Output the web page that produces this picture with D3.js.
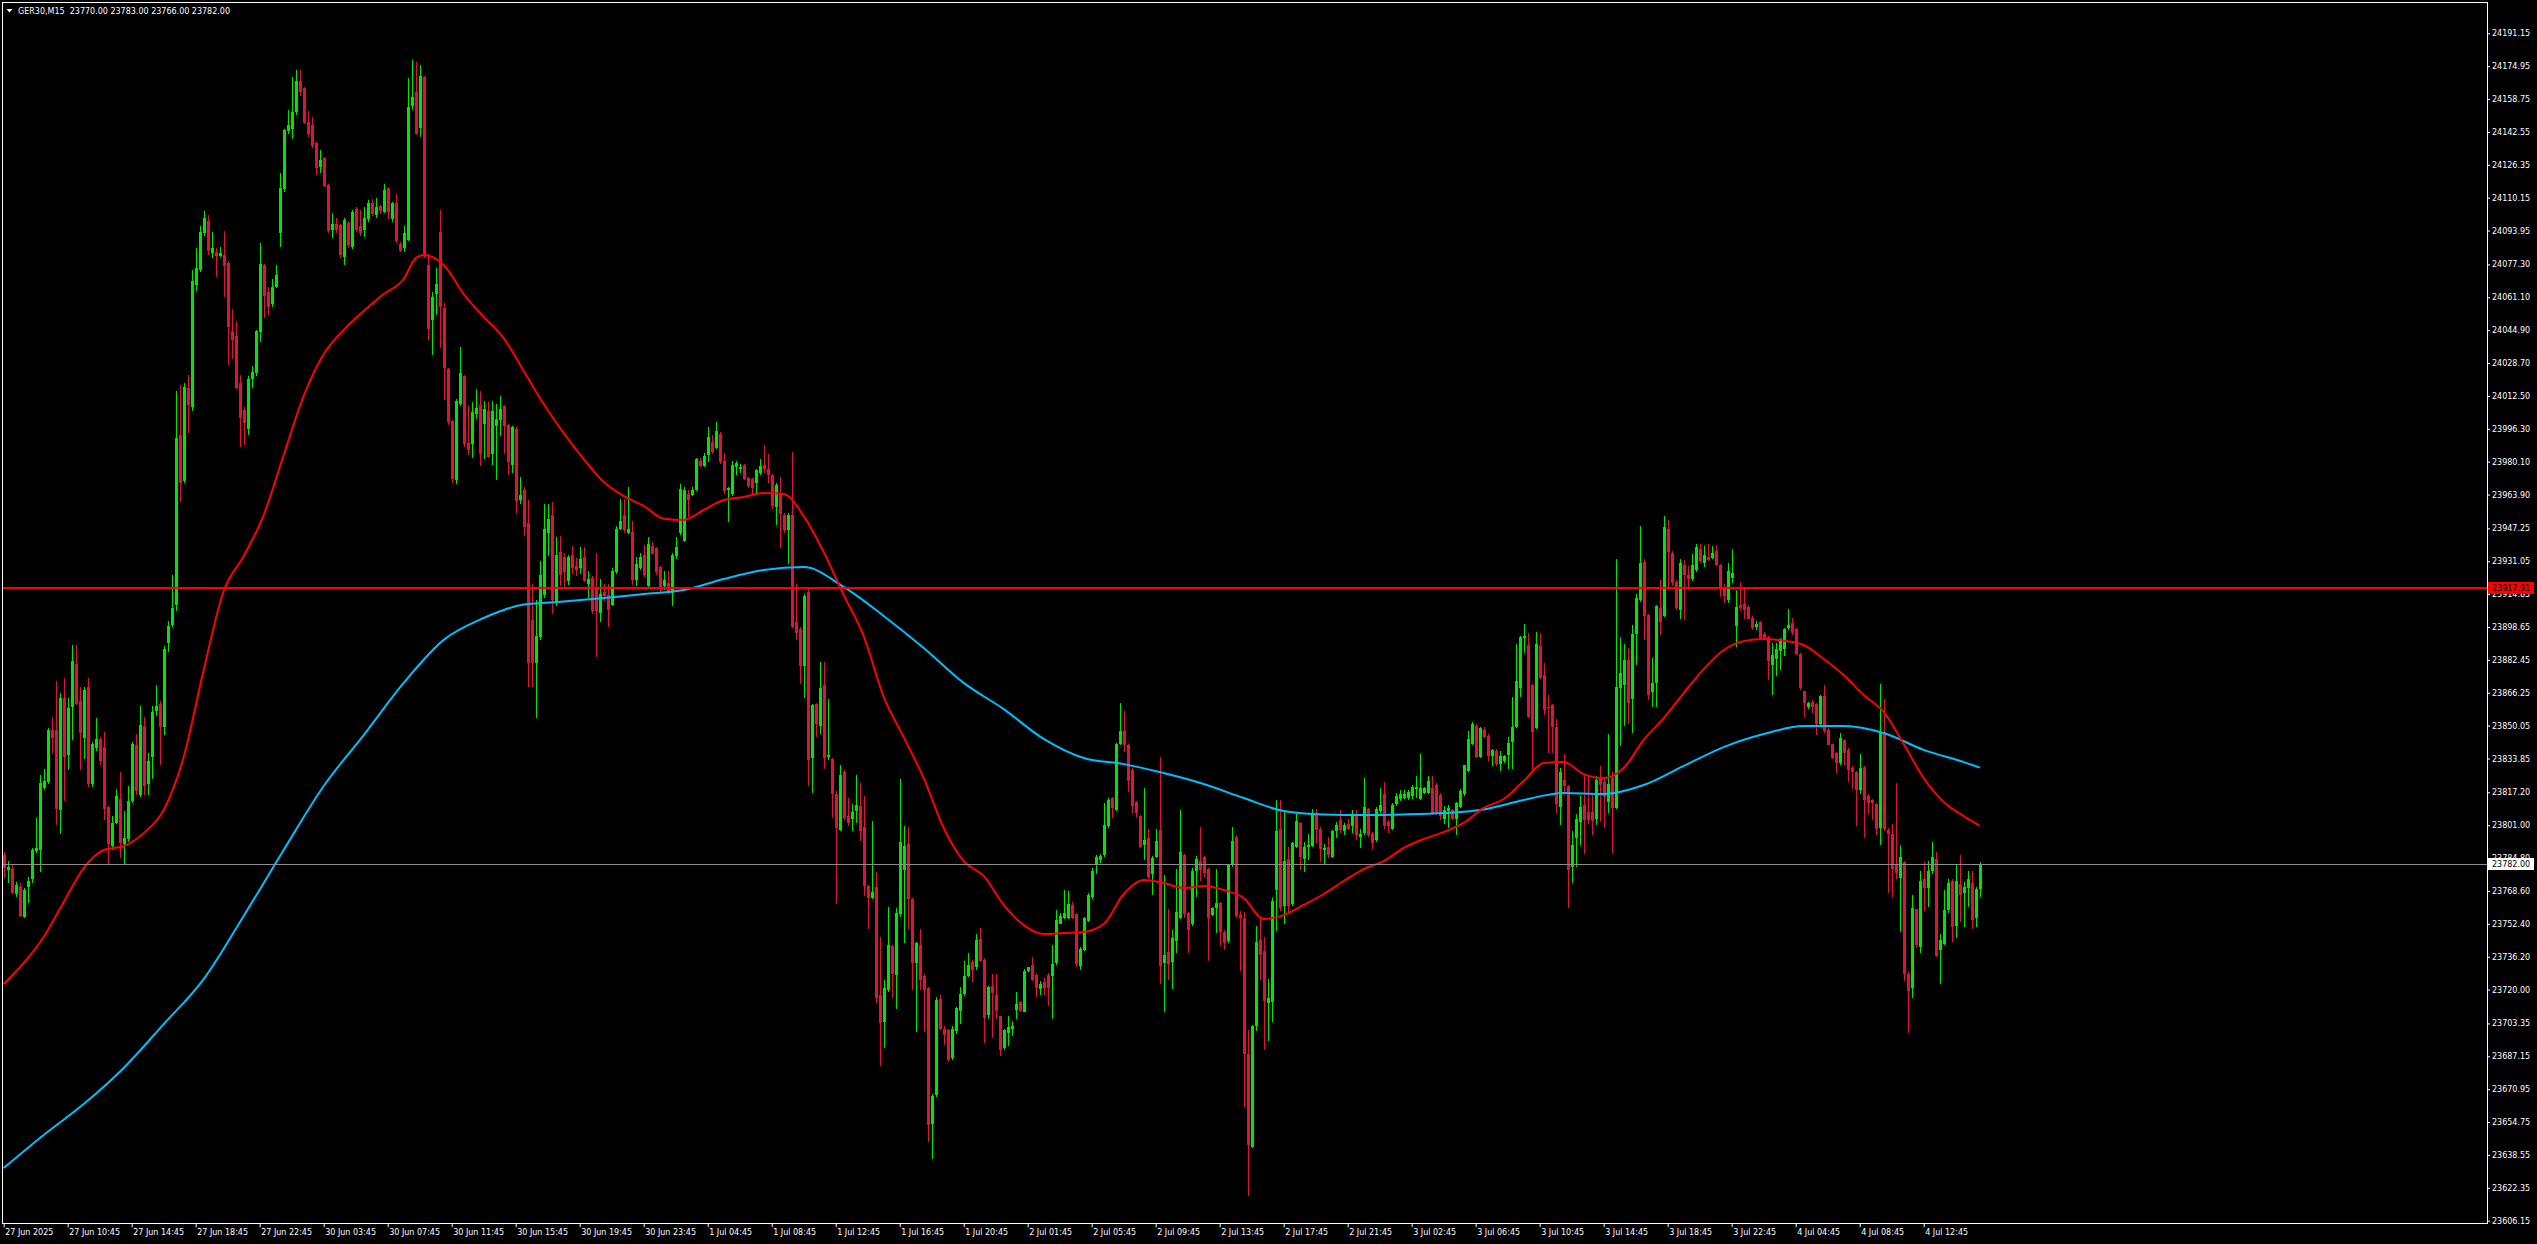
<!DOCTYPE html>
<html><head><meta charset="utf-8">
<script src="https://cdn.jsdelivr.net/npm/d3@7"></script>
<style>
html,body{margin:0;padding:0;background:#000;overflow:hidden;}
svg{display:block;}
text{font-family:"DejaVu Sans",Verdana,sans-serif;}
</style></head><body>
<svg id="chart" width="2537" height="1244"></svg>
<script>
const symbolTitle = "GER30,M15";
const lastQuote = ["23770.00","23783.00","23766.00","23782.00"];
const timeLabels = ["27 Jun 2025","27 Jun 10:45","27 Jun 14:45","27 Jun 18:45","27 Jun 22:45","30 Jun 03:45","30 Jun 07:45","30 Jun 11:45","30 Jun 15:45","30 Jun 19:45","30 Jun 23:45","1 Jul 04:45","1 Jul 08:45","1 Jul 12:45","1 Jul 16:45","1 Jul 20:45","2 Jul 01:45","2 Jul 05:45","2 Jul 09:45","2 Jul 13:45","2 Jul 17:45","2 Jul 21:45","3 Jul 02:45","3 Jul 06:45","3 Jul 10:45","3 Jul 14:45","3 Jul 18:45","3 Jul 22:45","4 Jul 04:45","4 Jul 08:45","4 Jul 12:45"];
const priceTicks = [24191.15,24174.95,24158.75,24142.55,24126.35,24110.15,24093.95,24077.30,24061.10,24044.90,24028.70,24012.50,23996.30,23980.10,23963.90,23947.25,23931.05,23914.85,23898.65,23882.45,23866.25,23850.05,23833.85,23817.20,23801.00,23784.80,23768.60,23752.40,23736.20,23720.00,23703.35,23687.15,23670.95,23654.75,23638.55,23622.35,23606.15];
const levelLine = 23917.91;
const bidPrice = 23782.00;

const open = [
23786.3,23779.2,23779.2,23767.4,23770.7,23756.3,23771.0,23775.1,23788.8,23789.3,
23819.8,23823.0,23847.9,23847.9,23809.0,23863.6,23836.0,23859.5,23880.6,23862.2,
23844.7,23869.0,23821.7,23839.3,23843.3,23839.3,23810.1,23791.2,23802.8,23814.1,
23792.0,23794.7,23813.6,23840.6,23816.3,23850.1,23821.7,23835.2,23857.6,23860.9,
23850.1,23891.1,23900.1,23910.1,23993.3,23970.9,24016.3,24007.3,24067.6,24074.9,
24093.3,24098.7,24083.3,24083.3,24082.0,24081.9,24077.9,24044.6,24041.9,24019.0,
24005.5,23996.5,24021.4,24024.4,24044.6,24077.1,24063.5,24058.1,24066.8,24093.3,
24114.9,24143.3,24144.6,24152.7,24167.6,24164.1,24147.3,24146.0,24137.0,24125.7,
24129.7,24116.2,24094.6,24097.3,24096.5,24081.6,24097.9,24086.5,24104.6,24096.0,
24094.6,24100.0,24107.3,24101.9,24106.0,24103.5,24114.9,24100.0,24107.6,24087.3,
24085.7,24090.0,24156.0,24162.2,24145.2,24169.7,24077.1,24050.6,24063.0,24093.3,
24056.0,24025.7,24000.0,23971.7,24009.0,24022.5,23989.2,23989.2,24004.1,24008.1,
23999.0,24004.9,23984.3,23998.4,24001.0,24007.4,23998.4,23979.1,23996.4,23961.6,
23966.2,23950.0,23902.3,23881.2,23894.1,23914.7,23945.6,23953.8,23910.8,23935.8,
23933.2,23921.6,23934.0,23928.9,23928.1,23933.2,23920.3,23922.9,23917.2,23906.2,
23916.0,23914.2,23910.0,23926.3,23947.4,23953.8,23945.6,23945.6,23922.4,23928.1,
23934.0,23919.1,23938.4,23937.4,23928.1,23919.1,23920.3,23916.0,23934.0,23945.6,
23941.7,23964.1,23964.1,23966.7,23980.4,23978.3,23983.7,23989.9,23987.3,23993.8,
23980.4,23966.7,23964.9,23977.8,23977.0,23978.3,23971.9,23971.4,23970.1,23975.2,
23978.3,23976.5,23973.4,23958.5,23964.1,23953.8,23946.9,23953.8,23901.0,23897.9,
23879.9,23916.0,23834.8,23860.6,23850.2,23870.1,23835.3,23833.5,23816.2,23799.2,
23827.1,23805.7,23804.4,23808.5,23810.3,23800.0,23770.9,23765.7,23770.4,23717.5,
23704.6,23720.1,23741.5,23727.8,23757.5,23779.4,23791.8,23764.4,23733.8,23742.0,
23726.6,23720.6,23654.4,23668.6,23715.5,23700.8,23700.0,23686.6,23700.0,23709.8,
23718.3,23727.3,23733.8,23731.7,23745.1,23734.8,23708.0,23721.9,23717.5,23706.8,
23691.8,23698.9,23700.9,23710.6,23713.8,23709.6,23729.6,23732.1,23727.1,23720.6,
23723.8,23727.1,23727.3,23733.4,23752.9,23755.9,23755.9,23761.7,23757.2,23732.1,
23740.1,23754.2,23765.9,23782.6,23784.2,23786.7,23800.9,23814.2,23809.2,23841.7,
23847.2,23840.5,23828.4,23812.6,23805.6,23791.7,23794.7,23777.6,23785.6,23798.4,
23733.4,23738.4,23733.9,23744.2,23755.9,23786.2,23757.6,23752.6,23778.9,23783.4,
23785.1,23779.2,23757.1,23760.6,23762.6,23748.4,23744.2,23781.7,23795.1,23756.7,
23755.1,23688.4,23642.9,23702.6,23744.2,23739.2,23713.9,23714.2,23769.6,23799.2,
23761.7,23784.2,23762.9,23790.9,23802.1,23784.6,23790.6,23791.2,23806.7,23799.2,
23789.2,23790.1,23785.6,23798.4,23803.4,23798.4,23801.7,23800.9,23806.7,23795.6,
23797.6,23809.2,23796.7,23794.2,23808.4,23816.2,23802.6,23799.6,23811.7,23814.6,
23815.1,23815.1,23815.9,23819.2,23814.2,23817.2,23817.6,23819.5,23820.9,23815.9,
23804.6,23808.4,23808.7,23804.6,23810.5,23816.7,23828.4,23841.7,23850.0,23835.0,
23847.9,23845.0,23835.5,23837.5,23831.7,23832.9,23835.9,23842.6,23850.0,23869.0,
23893.6,23889.6,23869.9,23849.3,23889.2,23874.8,23859.3,23860.2,23849.3,23810.6,
23823.2,23820.1,23781.0,23795.1,23803.0,23810.9,23807.7,23807.4,23804.7,23824.1,
23822.3,23812.7,23824.1,23810.0,23869.0,23870.7,23882.2,23863.7,23895.7,23912.6,
23930.9,23904.5,23866.9,23871.6,23908.0,23904.5,23946.8,23935.0,23920.9,23907.7,
23929.2,23924.4,23922.7,23927.4,23937.3,23930.9,23933.2,23933.2,23936.2,23929.2,
23918.6,23912.6,23923.5,23899.8,23909.5,23909.8,23908.6,23903.3,23898.9,23901.0,
23895.0,23893.6,23880.4,23883.4,23887.5,23888.3,23898.6,23900.7,23897.5,23885.2,
23866.9,23859.8,23861.6,23860.5,23851.4,23864.6,23847.9,23840.8,23836.4,23832.0,
23842.9,23838.2,23829.4,23827.1,23818.8,23829.9,23815.3,23813.5,23811.3,23800.0,
23847.0,23798.6,23796.8,23781.3,23775.4,23783.1,23727.7,23721.1,23759.5,23741.4,
23774.3,23770.4,23778.9,23784.5,23740.2,23743.1,23759.5,23773.6,23751.9,23772.2,
23768.3,23770.8,23772.5,23756.0,23770.0];

const high = [
23787.9,23783.4,23781.4,23773.0,23772.7,23769.9,23775.6,23789.6,23804.7,23825.8,
23828.5,23848.7,23854.1,23872.2,23866.3,23873.6,23863.6,23889.8,23889.8,23869.0,
23869.0,23873.6,23842.0,23853.6,23844.7,23846.8,23810.5,23805.5,23819.0,23827.1,
23808.2,23820.4,23842.0,23846.0,23859.5,23854.1,23836.6,23859.5,23870.3,23862.2,
23889.3,23901.4,23924.4,24014.9,24018.1,24019.0,24023.0,24074.3,24085.2,24096.0,
24103.5,24101.4,24093.3,24085.2,24085.7,24093.8,24078.9,24055.4,24048.7,24023.0,
24006.8,24022.5,24027.1,24045.2,24087.9,24077.6,24066.3,24070.3,24077.1,24122.2,
24144.0,24153.3,24169.5,24173.0,24173.0,24164.9,24152.7,24150.0,24137.8,24133.8,
24130.3,24117.0,24102.7,24100.0,24097.3,24100.0,24098.7,24104.1,24105.4,24104.1,
24105.4,24108.9,24109.5,24110.0,24106.8,24117.0,24115.4,24108.1,24112.2,24088.4,
24096.0,24168.9,24177.8,24177.0,24175.7,24170.3,24082.5,24063.5,24075.7,24104.1,
24058.1,24026.3,24000.5,24010.8,24036.5,24023.0,24007.3,24009.5,24015.7,24014.9,
24010.0,24009.5,24010.0,24008.7,24012.6,24008.0,23998.6,23997.5,23997.0,23972.7,
23967.5,23961.1,23919.8,23912.1,23931.4,23959.3,23959.3,23960.3,23943.0,23943.5,
23935.3,23934.0,23938.4,23932.7,23937.9,23937.9,23926.3,23923.7,23935.3,23922.4,
23919.8,23919.8,23927.6,23948.2,23961.6,23961.6,23967.5,23950.8,23933.2,23935.3,
23939.2,23943.0,23940.4,23937.9,23928.9,23926.3,23926.3,23935.3,23943.0,23969.3,
23967.5,23966.2,23967.5,23981.7,23981.7,23984.3,23997.1,23993.3,23999.7,23994.6,
23984.3,23967.5,23980.4,23980.4,23979.1,23979.1,23972.7,23972.0,23976.5,23981.2,
23988.1,23983.7,23974.0,23969.5,23972.7,23954.6,23954.6,23984.8,23919.8,23898.5,
23914.7,23917.2,23860.6,23861.0,23881.2,23881.2,23863.1,23834.3,23818.0,23830.9,
23828.3,23814.2,23811.6,23825.8,23821.9,23815.5,23771.5,23803.1,23778.1,23745.9,
23724.5,23760.6,23742.0,23760.1,23824.0,23800.5,23800.0,23765.0,23743.3,23749.7,
23727.8,23721.4,23668.6,23716.2,23717.5,23702.1,23700.8,23702.1,23711.6,23721.4,
23734.3,23738.2,23734.8,23747.2,23750.3,23735.6,23721.9,23727.6,23727.6,23707.0,
23700.5,23706.8,23704.3,23718.9,23714.3,23730.1,23731.2,23735.9,23728.4,23724.3,
23725.9,23728.4,23741.8,23759.2,23757.6,23769.2,23768.4,23763.4,23757.6,23740.9,
23755.9,23767.6,23780.1,23786.2,23787.0,23811.7,23814.2,23815.1,23841.7,23861.2,
23857.2,23840.9,23829.2,23812.9,23805.9,23819.5,23799.2,23785.9,23799.2,23834.5,
23776.7,23759.6,23749.2,23779.2,23808.4,23786.7,23758.4,23780.1,23785.6,23800.0,
23785.9,23780.1,23760.9,23779.2,23763.4,23749.2,23781.7,23800.0,23796.2,23758.9,
23758.4,23700.1,23702.6,23751.2,23755.9,23745.9,23725.1,23765.1,23813.4,23813.4,
23807.6,23790.1,23792.9,23806.7,23802.6,23792.6,23796.7,23809.2,23809.2,23800.0,
23791.7,23795.1,23798.4,23802.6,23808.4,23802.2,23804.2,23808.4,23808.4,23799.2,
23824.2,23809.5,23797.6,23810.0,23819.2,23822.2,23803.4,23811.7,23816.7,23818.4,
23818.4,23818.4,23820.9,23825.4,23835.9,23820.0,23825.0,23825.4,23821.7,23816.7,
23810.5,23810.9,23809.2,23812.6,23818.9,23830.9,23847.5,23851.7,23850.9,23849.2,
23849.2,23845.9,23838.4,23838.4,23837.5,23835.6,23844.7,23864.1,23890.1,23894.2,
23900.1,23895.7,23870.7,23896.3,23895.7,23880.9,23865.1,23860.5,23853.1,23829.4,
23835.9,23820.6,23798.2,23806.5,23815.3,23825.9,23825.0,23816.2,23825.3,23830.3,
23824.6,23846.1,23827.1,23932.0,23893.6,23890.1,23888.3,23899.8,23914.7,23948.2,
23932.3,23905.1,23883.4,23909.5,23921.8,23953.5,23951.3,23935.9,23921.8,23932.3,
23931.5,23928.8,23934.5,23939.4,23939.4,23938.5,23939.7,23938.5,23939.0,23929.7,
23919.7,23930.2,23937.3,23916.8,23920.9,23918.6,23909.5,23904.2,23901.5,23901.5,
23896.3,23894.0,23891.0,23891.0,23893.0,23898.0,23907.3,23903.3,23898.0,23885.7,
23867.2,23861.9,23862.8,23861.1,23865.1,23869.9,23848.7,23841.2,23837.3,23846.5,
23843.5,23839.1,23830.3,23827.6,23835.9,23830.3,23816.2,23814.0,23811.8,23870.4,
23863.3,23799.5,23801.6,23821.8,23791.2,23783.6,23728.5,23766.6,23759.9,23778.3,
23783.1,23783.6,23792.9,23787.7,23747.5,23769.0,23774.3,23774.3,23781.3,23786.3,
23773.1,23778.3,23778.3,23770.4,23783.0];

const low = [
23775.6,23773.2,23767.5,23766.0,23756.3,23756.0,23763.3,23773.2,23788.0,23778.5,
23819.0,23822.0,23836.6,23801.4,23797.4,23813.6,23828.5,23843.3,23860.9,23828.5,
23833.9,23820.4,23820.4,23837.9,23831.2,23804.1,23782.5,23789.3,23802.0,23785.2,
23782.5,23793.0,23812.3,23816.3,23815.5,23816.3,23816.3,23824.4,23855.5,23831.2,
23846.0,23886.6,23899.0,23906.8,23960.9,23970.0,23994.6,24005.5,24064.9,24074.0,
24091.9,24082.5,24081.1,24071.6,24081.5,24061.7,24028.4,24031.1,24016.3,23987.9,
23988.7,23993.8,24017.1,24023.0,24039.8,24051.4,24052.7,24056.8,24066.0,24086.5,
24113.5,24141.9,24139.7,24151.4,24160.8,24146.8,24140.6,24135.2,24121.6,24123.0,
24115.8,24093.3,24090.6,24093.3,24081.1,24077.6,24085.7,24085.2,24093.8,24091.9,
24091.1,24098.7,24101.4,24100.8,24102.7,24103.0,24100.0,24098.7,24088.4,24083.8,
24083.8,24089.2,24154.1,24141.4,24140.6,24081.1,24040.6,24033.3,24052.7,24036.5,
24010.8,23998.7,23970.3,23969.5,24008.1,23987.9,23983.8,23982.5,24001.4,23978.4,
23982.0,23982.5,23979.1,23971.4,23993.3,23984.3,23974.0,23975.2,23954.6,23959.8,
23943.8,23869.6,23869.6,23854.1,23892.8,23913.4,23934.0,23905.7,23909.5,23919.1,
23918.5,23919.8,23925.5,23924.5,23925.5,23921.1,23913.4,23905.7,23884.5,23901.8,
23912.1,23899.2,23909.5,23925.5,23946.9,23945.6,23945.0,23919.8,23919.1,23927.0,
23923.7,23918.5,23935.0,23925.0,23916.5,23917.2,23915.2,23909.5,23932.7,23944.3,
23941.0,23953.3,23963.6,23966.2,23977.8,23977.8,23980.4,23984.3,23986.8,23979.6,
23964.9,23950.8,23963.6,23974.0,23975.2,23971.4,23967.5,23964.9,23964.2,23974.0,
23975.2,23970.1,23957.2,23949.5,23937.9,23945.6,23930.1,23898.5,23892.8,23870.9,
23864.4,23820.6,23817.3,23845.1,23846.4,23829.1,23833.5,23805.2,23762.6,23798.7,
23803.9,23801.3,23798.7,23802.6,23793.6,23766.5,23750.3,23765.2,23713.7,23682.7,
23691.8,23719.3,23716.2,23711.1,23756.2,23743.3,23749.7,23720.1,23699.5,23720.1,
23699.5,23645.4,23636.9,23667.8,23700.8,23693.1,23684.8,23685.8,23698.7,23703.4,
23717.5,23726.6,23724.0,23730.4,23734.3,23694.3,23706.0,23696.8,23705.9,23687.9,
23690.9,23692.6,23697.6,23705.9,23709.3,23709.3,23729.3,23724.6,23716.8,23717.6,
23717.9,23712.6,23705.9,23732.6,23752.6,23755.1,23755.1,23755.1,23731.7,23730.1,
23739.6,23753.9,23765.1,23777.6,23783.0,23785.9,23800.0,23805.1,23808.4,23840.9,
23837.5,23817.9,23807.6,23805.1,23790.1,23784.2,23775.1,23767.2,23785.1,23723.4,
23709.6,23725.1,23720.9,23738.4,23755.1,23755.6,23738.4,23751.7,23765.9,23774.2,
23775.9,23734.6,23756.7,23748.4,23741.8,23740.1,23743.4,23780.9,23755.9,23729.6,
23662.9,23619.0,23642.6,23700.1,23725.1,23690.9,23695.1,23704.6,23749.2,23759.2,
23752.6,23758.9,23761.7,23790.1,23779.2,23778.4,23784.2,23790.9,23792.6,23783.4,
23782.6,23785.1,23785.1,23795.1,23797.6,23796.7,23799.2,23797.6,23794.2,23790.1,
23796.7,23795.9,23789.2,23793.4,23807.6,23799.6,23797.6,23799.2,23810.9,23813.4,
23814.2,23813.9,23814.2,23815.1,23813.9,23816.7,23816.7,23806.7,23806.7,23804.2,
23802.2,23800.0,23803.9,23796.7,23810.0,23815.9,23827.9,23841.2,23834.5,23834.5,
23844.5,23832.9,23830.9,23830.9,23828.4,23832.0,23829.4,23829.4,23849.6,23864.6,
23886.2,23854.5,23828.9,23848.7,23873.5,23855.8,23836.9,23837.3,23807.7,23801.8,
23816.2,23760.8,23773.1,23781.0,23791.6,23787.1,23802.1,23796.8,23801.8,23803.0,
23800.0,23807.4,23788.0,23809.5,23840.5,23850.5,23851.4,23847.0,23880.4,23911.6,
23892.7,23863.3,23859.8,23859.8,23895.0,23904.2,23918.3,23919.1,23907.7,23903.3,
23902.4,23918.6,23921.8,23926.2,23930.9,23928.8,23931.5,23932.7,23929.2,23913.9,
23911.2,23911.2,23920.9,23889.2,23906.8,23903.3,23903.0,23897.5,23897.5,23892.7,
23892.7,23872.9,23865.8,23875.1,23877.8,23884.8,23897.5,23895.0,23885.2,23868.1,
23854.9,23858.8,23856.7,23845.8,23851.0,23847.0,23840.8,23834.1,23827.1,23831.1,
23831.1,23822.9,23819.4,23801.2,23817.1,23795.4,23807.0,23803.9,23796.8,23791.9,
23798.6,23768.3,23765.5,23774.8,23748.9,23724.7,23699.1,23716.2,23740.9,23738.4,
23759.0,23761.3,23777.5,23736.6,23723.3,23742.6,23758.1,23744.0,23745.8,23753.7,
23751.1,23761.3,23750.2,23751.1,23766.0];

const close = [
23780.2,23780.2,23768.2,23771.5,23756.8,23769.1,23773.5,23788.8,23789.9,23821.7,
23823.0,23847.9,23844.7,23809.5,23863.6,23835.2,23858.7,23882.0,23861.4,23846.8,
23867.6,23821.7,23841.2,23843.3,23833.3,23809.5,23792.0,23802.0,23815.5,23792.5,
23794.7,23812.8,23841.2,23818.2,23850.6,23820.9,23832.5,23856.8,23859.5,23850.1,
23887.9,23899.3,23908.2,23991.9,23970.3,24017.1,24008.7,24068.9,24075.7,24093.3,
24100.0,24084.4,24085.2,24081.9,24083.0,24077.1,24046.8,24040.6,24017.1,24002.2,
23999.5,24020.8,24024.4,24044.6,24077.6,24062.2,24056.8,24066.3,24072.2,24114.9,
24143.3,24146.0,24152.2,24167.6,24162.7,24147.3,24141.9,24136.0,24125.2,24128.9,
24116.2,24094.1,24097.3,24094.6,24082.5,24099.2,24087.3,24103.3,24094.6,24093.3,
24100.0,24107.6,24102.7,24105.4,24104.1,24114.1,24103.5,24107.6,24089.2,24084.6,
24092.7,24154.9,24160.0,24141.9,24170.3,24081.7,24046.0,24061.4,24067.6,24056.8,
24026.5,24000.0,23972.2,24010.0,24023.8,23989.2,23986.5,24004.6,24006.3,23984.6,
24006.0,23983.0,24004.9,24001.0,24006.2,23998.4,23980.4,23997.1,23961.1,23963.6,
23948.2,23881.2,23881.2,23894.1,23924.2,23946.9,23952.0,23912.6,23934.0,23925.0,
23926.3,23933.2,23928.1,23927.0,23932.2,23921.9,23922.4,23907.0,23907.0,23914.7,
23914.2,23907.5,23926.3,23946.9,23950.8,23946.9,23946.9,23922.4,23929.6,23933.2,
23925.0,23939.7,23935.3,23926.3,23917.8,23921.6,23916.0,23934.0,23937.9,23966.7,
23966.2,23961.6,23966.2,23981.2,23978.3,23983.0,23992.5,23985.5,23995.1,23980.4,
23966.2,23967.2,23978.6,23979.6,23977.5,23972.1,23968.8,23967.5,23976.0,23977.8,
23977.0,23974.0,23959.0,23968.8,23954.6,23946.9,23953.8,23899.2,23896.1,23879.9,
23913.9,23833.5,23860.0,23851.5,23868.8,23834.8,23835.8,23816.8,23800.0,23825.8,
23805.2,23802.6,23807.7,23810.8,23798.7,23771.6,23765.7,23768.3,23716.3,23703.9,
23720.6,23742.0,23728.4,23757.5,23792.8,23791.0,23765.2,23733.8,23742.8,23725.3,
23720.1,23653.9,23667.8,23715.0,23701.3,23698.2,23685.8,23700.8,23711.1,23718.0,
23726.6,23732.2,23730.4,23744.6,23734.8,23706.5,23721.4,23718.8,23709.8,23690.9,
23700.1,23701.8,23702.3,23712.9,23710.1,23729.3,23730.9,23725.1,23721.3,23722.9,
23721.3,23721.3,23732.6,23754.2,23756.2,23757.6,23762.2,23755.9,23732.9,23740.1,
23755.1,23766.7,23778.4,23785.1,23785.9,23800.9,23813.4,23810.0,23840.9,23847.2,
23841.2,23823.4,23811.2,23807.6,23790.9,23793.7,23776.2,23784.6,23793.4,23732.3,
23737.2,23732.9,23745.4,23758.4,23788.0,23757.9,23750.1,23778.4,23784.2,23779.2,
23777.9,23755.9,23760.1,23762.9,23748.9,23743.4,23781.2,23793.1,23756.7,23755.9,
23688.8,23643.9,23702.3,23743.4,23737.6,23715.1,23715.9,23763.9,23797.9,23760.9,
23783.4,23761.7,23792.1,23802.9,23785.9,23790.4,23791.2,23807.1,23799.2,23789.7,
23789.7,23786.7,23797.9,23800.9,23799.2,23801.2,23799.6,23805.9,23796.7,23796.7,
23810.0,23796.7,23792.9,23809.2,23811.2,23801.2,23801.2,23811.2,23815.5,23816.2,
23816.2,23817.6,23820.0,23820.0,23819.5,23819.5,23822.9,23807.6,23807.6,23805.9,
23808.4,23809.5,23804.6,23811.7,23817.9,23830.5,23843.4,23850.9,23835.0,23848.9,
23845.0,23835.5,23837.9,23831.7,23835.0,23835.2,23841.7,23849.6,23872.0,23893.6,
23894.2,23854.9,23847.5,23890.1,23873.9,23858.1,23859.1,23850.0,23811.8,23827.1,
23820.6,23779.6,23791.2,23803.9,23810.0,23803.9,23803.9,23803.5,23823.2,23821.1,
23815.3,23821.5,23810.0,23869.0,23876.0,23882.2,23861.9,23895.4,23913.0,23930.2,
23904.5,23865.8,23871.1,23908.9,23901.5,23947.7,23935.9,23920.9,23908.6,23930.2,
23924.9,23922.7,23929.2,23938.0,23931.5,23934.1,23932.0,23935.0,23929.7,23918.3,
23914.4,23926.2,23925.3,23908.6,23908.6,23907.3,23903.3,23898.6,23900.1,23893.6,
23893.6,23882.2,23884.8,23888.0,23892.7,23897.5,23899.8,23896.3,23885.7,23869.0,
23861.6,23861.1,23859.8,23851.4,23864.6,23847.9,23841.2,23834.7,23832.0,23844.0,
23836.9,23828.9,23827.6,23818.8,23829.4,23814.1,23812.3,23812.3,23799.5,23847.0,
23799.5,23797.2,23780.1,23777.8,23785.4,23728.2,23719.8,23760.2,23742.3,23773.6,
23770.8,23778.3,23785.4,23737.0,23744.4,23759.0,23772.5,23751.1,23773.6,23767.3,
23770.8,23774.3,23754.9,23769.5,23782.0];

const maFastBars = [0,5,10,15,20,25,30,35,40,45,50,55,60,65,70,75,80,85,90,95,100,103,105,110,115,120,125,130,135,140,145,150,155,160,165,170,175,180,185,190,195,200,205,210,215,220,225,230,235,240,245,250,255,260,265,270,275,280,285,290,295,300,305,310,315,320,325,330,335,340,345,350,355,360,365,370,375,380,385,390,395,400,405,410,415,420,425,430,435,440,445,450,455,460,465,470,475,480,485,490,494];
const maFastValues = [23722.8,23733.1,23745.9,23763.2,23779.9,23788.8,23790.7,23797.1,23808.5,23834.6,23877.5,23916.4,23933.6,23953.8,23983.4,24012.5,24033.1,24045.0,24054.3,24062.7,24070.1,24080.4,24081.9,24077.0,24062.7,24051.4,24041.0,24024.8,24008.5,23994.2,23981.4,23970.1,23963.2,23958.3,23952.0,23951.4,23956.3,23961.2,23962.7,23964.7,23964.2,23953.3,23935.6,23914.4,23894.2,23864.2,23844.4,23824.2,23799.6,23783.3,23776.0,23761.7,23751.8,23747.4,23747.9,23748.4,23752.3,23767.1,23774.0,23772.5,23770.1,23771.0,23769.1,23765.1,23754.8,23756.7,23761.7,23767.1,23773.5,23779.4,23783.3,23789.8,23794.2,23797.6,23802.1,23809.5,23813.9,23822.8,23831.6,23832.1,23826.2,23824.2,23829.2,23843.0,23853.8,23866.1,23877.9,23887.3,23891.7,23892.7,23891.9,23889.8,23882.9,23875.0,23865.1,23856.8,23841.0,23824.2,23812.4,23805.5,23800.7];
const maSlowBars = [0,10,20,30,40,50,60,70,80,90,100,110,120,130,140,150,160,170,180,190,200,210,220,230,240,250,260,270,280,290,300,310,320,330,340,350,360,370,380,390,400,410,420,430,440,450,460,470,480,490,494];
const maSlowValues = [23632.1,23648.4,23663.6,23681.4,23703.0,23725.2,23756.3,23788.8,23820.3,23845.4,23871.1,23892.3,23903.1,23909.7,23911.2,23912.9,23914.9,23916.9,23922.3,23926.7,23928.2,23918.4,23904.1,23888.3,23871.1,23858.2,23843.5,23834.1,23831.1,23826.7,23821.3,23814.4,23808.0,23806.3,23806.0,23806.3,23807.0,23808.7,23813.4,23816.9,23816.4,23820.8,23830.2,23839.5,23845.9,23849.9,23849.9,23846.4,23838.1,23832.1,23829.4];

// ---------- drawing ----------
const W = 2537, H = 1244;
const plot = {l: 2, t: 2, r: 2487, b: 1223};
const UP = "#00e600", DOWN = "#dc143c";
const FONT = "DejaVu Sans, Verdana, sans-serif";

const svg = d3.select("#chart");
const n = close.length;
const x = d3.scaleLinear().domain([0, n - 1]).range([3.7, 3.7 + 4 * (n - 1)]);
const y = d3.scaleLinear().domain([23606.15, 24191.15]).range([1220.7, 33.3]);

svg.append("rect").attr("width", W).attr("height", H).attr("fill", "#000");

svg.append("defs").append("clipPath").attr("id", "clip")
  .append("rect").attr("x", plot.l + 1).attr("y", plot.t + 1)
  .attr("width", plot.r - plot.l - 1).attr("height", plot.b - plot.t - 1);

const g = svg.append("g").attr("clip-path", "url(#clip)");

const idx = d3.range(n);
const isUp = i => close[i] >= open[i];

// wicks
g.append("g").attr("shape-rendering", "crispEdges")
  .selectAll("line").data(idx).join("line")
  .attr("x1", i => Math.round(x(i)) + 0.5)
  .attr("x2", i => Math.round(x(i)) + 0.5)
  .attr("y1", i => Math.round(y(high[i])))
  .attr("y2", i => Math.round(y(low[i])) + 1)
  .attr("stroke", i => isUp(i) ? UP : DOWN)
  .attr("stroke-width", 1);

// bodies
g.append("g").attr("shape-rendering", "crispEdges")
  .selectAll("rect").data(idx).join("rect")
  .attr("x", i => Math.round(x(i)) - 1)
  .attr("width", 3)
  .attr("y", i => Math.round(y(Math.max(open[i], close[i]))))
  .attr("height", i => Math.max(1, Math.round(y(Math.min(open[i], close[i]))) - Math.round(y(Math.max(open[i], close[i]))) + 1))
  .attr("fill", i => isUp(i) ? UP : DOWN);

// moving averages
const maLine = d3.line().x(d => x(d[0])).y(d => y(d[1])).curve(d3.curveMonotoneX);
g.append("path").datum(maSlowBars.map((b, k) => [b, maSlowValues[k]]))
  .attr("d", maLine).attr("fill", "none").attr("stroke", "#00bfff").attr("stroke-width", 2);
g.append("path").datum(maFastBars.map((b, k) => [b, maFastValues[k]]))
  .attr("d", maLine).attr("fill", "none").attr("stroke", "#ff0000").attr("stroke-width", 2);

// horizontal level and bid line
const ly = Math.round(y(levelLine));
g.append("line").attr("x1", plot.l).attr("x2", plot.r)
  .attr("y1", ly).attr("y2", ly)
  .attr("stroke", "#ff0000").attr("stroke-width", 2).attr("shape-rendering", "crispEdges");
const by = Math.round(y(bidPrice)) + 0.5;
g.append("line").attr("x1", plot.l).attr("x2", plot.r)
  .attr("y1", by).attr("y2", by)
  .attr("stroke", "#8c8c8c").attr("stroke-width", 1).attr("shape-rendering", "crispEdges");

// frame
svg.append("rect").attr("x", plot.l + 0.5).attr("y", plot.t + 0.5)
  .attr("width", plot.r - plot.l).attr("height", plot.b - plot.t)
  .attr("fill", "none").attr("stroke", "#ffffff").attr("stroke-width", 1)
  .attr("shape-rendering", "crispEdges");

// price axis
const yAxis = d3.axisRight(y).tickValues(priceTicks).tickSize(3).tickPadding(2)
  .tickFormat(d3.format(".2f"));
const ya = svg.append("g").attr("transform", `translate(${plot.r},0)`).call(yAxis);
ya.select(".domain").remove();
ya.selectAll(".tick line").attr("stroke", "#ffffff");
ya.selectAll(".tick text").attr("fill", "#ffffff").style("font-family", FONT).style("font-size", "8px");

// time axis
const tickBars = d3.range(0, n, 16);
const xAxis = d3.axisBottom(x).tickValues(tickBars).tickSize(4)
  .tickFormat((d, k) => timeLabels[k]);
const xa = svg.append("g").attr("transform", `translate(0,${plot.b})`).call(xAxis);
xa.select(".domain").remove();
xa.selectAll(".tick line").attr("stroke", "#ffffff");
xa.selectAll(".tick text").attr("fill", "#ffffff").attr("text-anchor", "start")
  .attr("x", 1).attr("y", 12).attr("dy", 0)
  .style("font-family", FONT).style("font-size", "8px");

// price tags on the axis
function priceTag(price, bg, fg) {
  const cy = Math.round(y(price));
  svg.append("rect").attr("x", plot.r + 1).attr("y", cy - 6).attr("width", 46).attr("height", 12)
    .attr("fill", bg);
  svg.append("text").attr("x", plot.r + 5).attr("y", cy).attr("dy", "0.35em")
    .attr("fill", fg).style("font-family", FONT).style("font-size", "8px")
    .text(d3.format(".2f")(price));
}
priceTag(levelLine, "#ff0000", "#000000");
priceTag(bidPrice, "#ffffff", "#000000");

// header
svg.append("path").attr("d", "M6.5,9 L12.5,9 L9.5,12.5 Z").attr("fill", "#ffffff");
svg.append("text").attr("x", 18).attr("y", 14)
  .attr("fill", "#ffffff").style("font-family", FONT).style("font-size", "8px")
  .style("white-space", "pre")
  .text(`${symbolTitle}  ${lastQuote.join(" ")}`);
</script>
</body></html>
